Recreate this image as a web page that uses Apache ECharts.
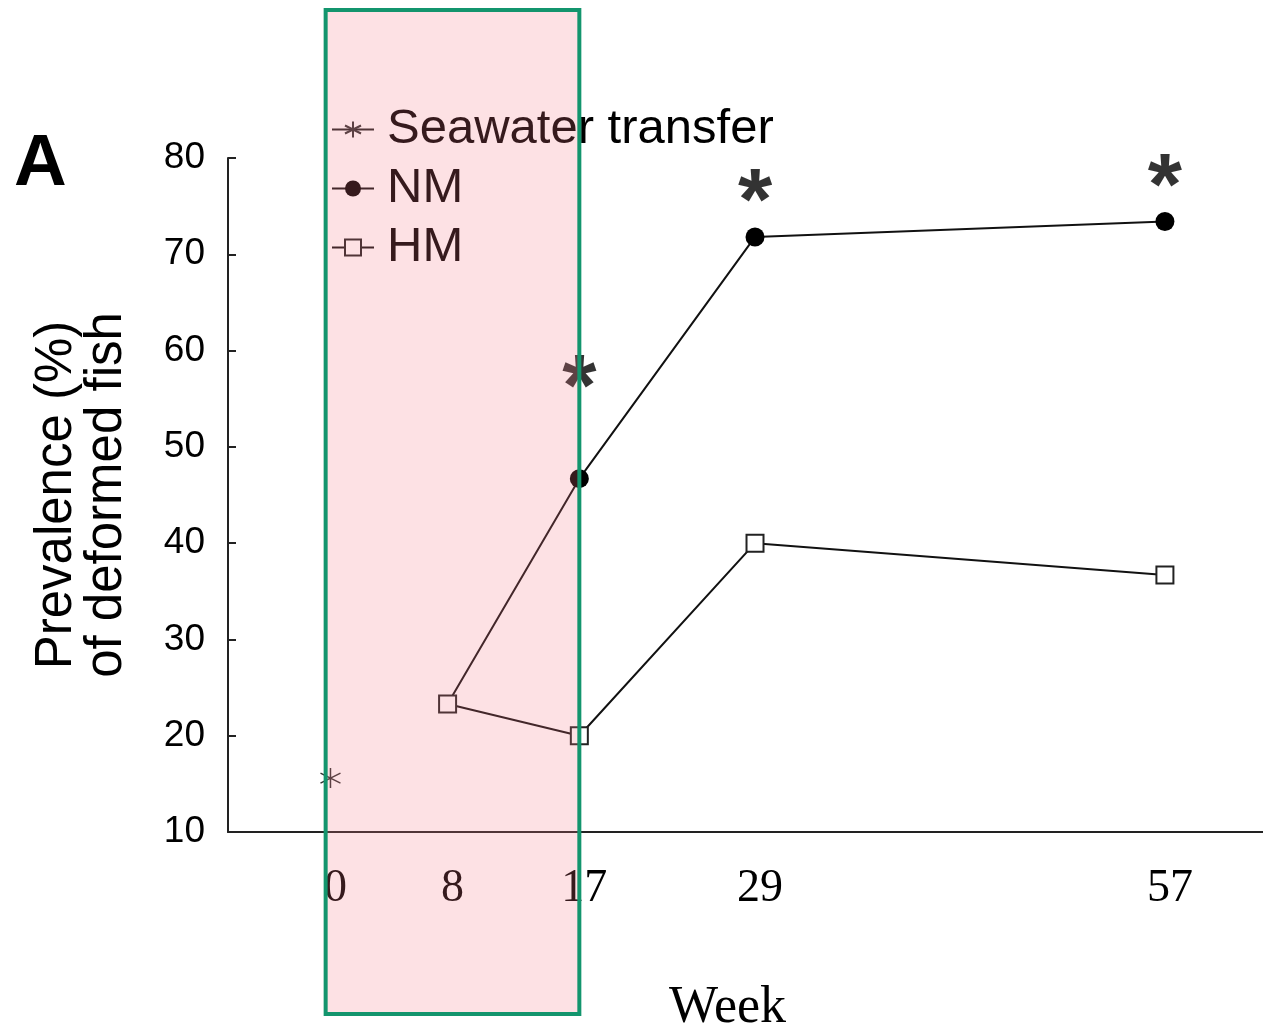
<!DOCTYPE html>
<html>
<head>
<meta charset="utf-8">
<script src="https://cdn.jsdelivr.net/npm/echarts@6/dist/echarts.min.js"></script>
<style>html,body{margin:0;padding:0;background:#fff}#c{width:1263px;height:1031px}</style>
</head>
<body>
<div id="c"></div>
<script>
// ---- data ----
const weekTicks = [0, 8, 17, 29, 57];
const seawaterWeeks = [0];
const seawaterValues = [15.6];
const nmWeeks = [8, 17, 29, 57];
const nmValues = [23.3, 46.7, 71.8, 73.4];
const hmWeeks = [8, 17, 29, 57];
const hmValues = [23.3, 20.0, 40.0, 36.7];
const sigWeeks = [17, 29, 57];
const sigValues = [58.2, 77.5, 79.1];
const shadeWeeks = [-0.33, 17.0];

const pair = (xs, ys) => xs.map((x, i) => [x, ys[i]]);
const asterisk = 'path://M0,-10L0,10M-8.66,-5L8.66,5M-8.66,5L8.66,-5';

const chart = echarts.init(document.getElementById('c'), null, {renderer: 'canvas'});
const option = {
  animation: false,
  backgroundColor: '#fff',
  grid: {left: 228, right: 0, top: 158, bottom: 199, containLabel: false, outerBoundsMode: 'none'},
  legend: {
    orient: 'vertical', left: 326, top: 100, itemWidth: 42, itemHeight: 20, itemGap: 10,
    textStyle: {fontFamily: 'Liberation Sans, Arial', fontSize: 49, color: '#000', padding: [0, 0, 0, 8]},
    data: ['Seawater transfer', 'NM', 'HM']
  },
  xAxis: {
    type: 'value', min: -7, max: 63.7,
    axisLine: {show: true, onZero: false, lineStyle: {color: '#222', width: 2}},
    axisTick: {show: false},
    splitLine: {show: false},
    axisLabel: {customValues: weekTicks, margin: 34, fontFamily: 'Liberation Serif, Times New Roman', fontSize: 46, color: '#000', padding: [0, 0, 0, 10]},
    name: 'Week', nameLocation: 'middle', nameGap: 150,
    nameTextStyle: {fontFamily: 'Liberation Serif, Times New Roman', fontSize: 52, color: '#000', padding: [0, 36, 0, 0]}
  },
  yAxis: {
    type: 'value', min: 10, max: 80, interval: 10,
    axisLine: {show: true, onZero: false, lineStyle: {color: '#222', width: 2}},
    axisTick: {show: true, inside: true, length: 8, lineStyle: {color: '#222', width: 2}},
    splitLine: {show: false},
    axisLabel: {margin: 23, fontFamily: 'Liberation Sans, Arial', fontSize: 37, color: '#000'},
    name: 'Prevalence (%)\nof deformed fish', nameLocation: 'middle', nameGap: 96, nameRotate: 90,
    nameTextStyle: {fontFamily: 'Liberation Sans, Arial', fontSize: 51, color: '#000', lineHeight: 50}
  },
  series: [
    {
      name: 'Seawater transfer', type: 'line', data: pair(seawaterWeeks, seawaterValues),
      symbol: asterisk, symbolSize: 20,
      lineStyle: {color: '#222', width: 1.5},
      itemStyle: {color: 'rgba(0,0,0,0)', borderColor: '#333', borderWidth: 1.5}
    },
    {
      name: 'NM', type: 'line', data: pair(nmWeeks, nmValues).map((d, i) => i === 0 ? {value: d, symbol: 'none'} : d),
      symbol: 'circle', symbolSize: 19, showAllSymbol: true, z: 2,
      lineStyle: {color: '#111', width: 2},
      itemStyle: {color: '#000'}
    },
    {
      name: 'HM', type: 'line', data: pair(hmWeeks, hmValues),
      symbol: 'rect', symbolSize: 17, showAllSymbol: true, z: 3,
      lineStyle: {color: '#111', width: 2},
      itemStyle: {color: '#fff', borderColor: '#222', borderWidth: 2}
    },
    {
      name: 'sig', type: 'scatter', data: pair(sigWeeks, sigValues), symbol: 'circle', symbolSize: 1, silent: true,
      itemStyle: {color: 'rgba(0,0,0,0)'},
      label: {show: true, position: 'inside', formatter: '*', fontFamily: 'Liberation Sans, Arial', fontWeight: 'bold', fontSize: 88, color: '#000', offset: [0, 23]}
    }
  ],
  graphic: [
    {type: 'text', left: 14, top: 128, style: {text: 'A', fontFamily: 'Liberation Sans, Arial', fontWeight: 'bold', fontSize: 73, fill: '#000'}}
  ]
};
chart.setOption(option);
const x0 = chart.convertToPixel({xAxisIndex: 0}, shadeWeeks[0]);
const x1 = chart.convertToPixel({xAxisIndex: 0}, shadeWeeks[1]);
chart.setOption({
  graphic: [
    {type: 'text', left: 14, top: 128, style: {text: 'A', fontFamily: 'Liberation Sans, Arial', fontWeight: 'bold', fontSize: 73, fill: '#000'}},
    {type: 'rect', z: 100, shape: {x: x0, y: 10, width: x1 - x0, height: 1004},
     style: {fill: 'rgba(245,120,130,0.22)', stroke: '#13956d', lineWidth: 4}}
  ]
});
</script>
</body>
</html>
